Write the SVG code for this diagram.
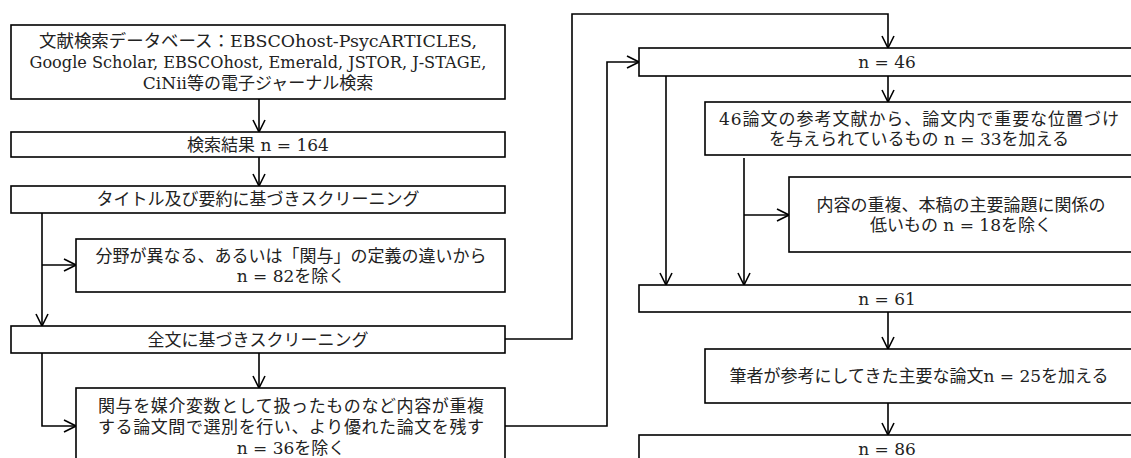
<svg xmlns="http://www.w3.org/2000/svg" width="1131" height="458" viewBox="0 0 1131 458">
<style>
.box{fill:#fff;stroke:#000;stroke-width:1.6}
.t{font-family:"DejaVu Serif","Noto Sans CJK JP",serif;font-size:17px;fill:#222;text-anchor:middle;dominant-baseline:central}
.c{fill:none;stroke:#000;stroke-width:1.6}
</style>
<defs>
<marker id="a" viewBox="0 0 14 14" refX="13" refY="7" markerWidth="14" markerHeight="14" orient="auto" markerUnits="userSpaceOnUse">
<path d="M1,1 L13,7 L1,13" fill="none" stroke="#000" stroke-width="1.6"/>
</marker>
</defs>
<rect width="1131" height="458" fill="#fff"/>
<g id="connectors">
<path class="c" d="M259,99 V132" marker-end="url(#a)"/>
<path class="c" d="M259,157 V186" marker-end="url(#a)"/>
<path class="c" d="M42,213 V326" marker-end="url(#a)"/>
<path class="c" d="M42,265 H76" marker-end="url(#a)"/>
<path class="c" d="M259,353 V388" marker-end="url(#a)"/>
<path class="c" d="M42,353 V426 H76" marker-end="url(#a)"/>
<path class="c" d="M505,339 H572 V14 H888 V48" marker-end="url(#a)"/>
<path class="c" d="M505,426 H607 V62 H639" marker-end="url(#a)"/>
<path class="c" d="M666,76 V285" marker-end="url(#a)"/>
<path class="c" d="M888,76 V102" marker-end="url(#a)"/>
<path class="c" d="M744,158 V285" marker-end="url(#a)"/>
<path class="c" d="M744,215 H789" marker-end="url(#a)"/>
<path class="c" d="M888,312 V349" marker-end="url(#a)"/>
<path class="c" d="M888,403 V435" marker-end="url(#a)"/>
</g>
<g id="n1"><rect class="box" x="11" y="25" width="494" height="74"/>
<text class="t" x="258" y="41" textLength="438" lengthAdjust="spacingAndGlyphs">文献検索データベース：EBSCOhost-PsycARTICLES,</text>
<text class="t" x="258" y="62" textLength="457" lengthAdjust="spacingAndGlyphs">Google Scholar, EBSCOhost, Emerald, JSTOR, J-STAGE,</text>
<text class="t" x="258" y="83">CiNii等の電子ジャーナル検索</text></g>
<g id="n2"><rect class="box" x="11" y="132" width="494" height="25"/>
<text class="t" x="258" y="145">検索結果 n = 164</text></g>
<g id="n3"><rect class="box" x="11" y="186" width="494" height="27"/>
<text class="t" x="258" y="199">タイトル及び要約に基づきスクリーニング</text></g>
<g id="n4"><rect class="box" x="76" y="239" width="429" height="53"/>
<text class="t" x="291" y="256">分野が異なる、あるいは「関与」の定義の違いから</text>
<text class="t" x="291" y="276">n = 82を除く</text></g>
<g id="n5"><rect class="box" x="11" y="326" width="494" height="27"/>
<text class="t" x="258" y="340">全文に基づきスクリーニング</text></g>
<g id="n6"><rect class="box" x="76" y="388" width="429" height="80"/>
<text class="t" x="291" y="406" textLength="386">関与を媒介変数として扱ったものなど内容が重複</text>
<text class="t" x="291" y="427" textLength="386">する論文間で選別を行い、より優れた論文を残す</text>
<text class="t" x="291" y="448">n = 36を除く</text></g>
<g id="n7"><rect class="box" x="639" y="48" width="496" height="28"/>
<text class="t" x="887" y="62">n = 46</text></g>
<g id="n8"><rect class="box" x="705" y="102" width="430" height="53"/>
<text class="t" x="919" y="119" textLength="400">46論文の参考文献から、論文内で重要な位置づけ</text>
<text class="t" x="919" y="139">を与えられているもの n = 33を加える</text></g>
<g id="n9"><rect class="box" x="789" y="177" width="346" height="75"/>
<text class="t" x="961" y="205">内容の重複、本稿の主要論題に関係の</text>
<text class="t" x="961" y="225">低いもの n = 18を除く</text></g>
<g id="n10"><rect class="box" x="639" y="285" width="496" height="27"/>
<text class="t" x="887" y="299">n = 61</text></g>
<g id="n11"><rect class="box" x="705" y="349" width="430" height="54"/>
<text class="t" x="919" y="376">筆者が参考にしてきた主要な論文n = 25を加える</text></g>
<g id="n12"><rect class="box" x="639" y="435" width="496" height="40"/>
<text class="t" x="887" y="449">n = 86</text></g>
</svg>
